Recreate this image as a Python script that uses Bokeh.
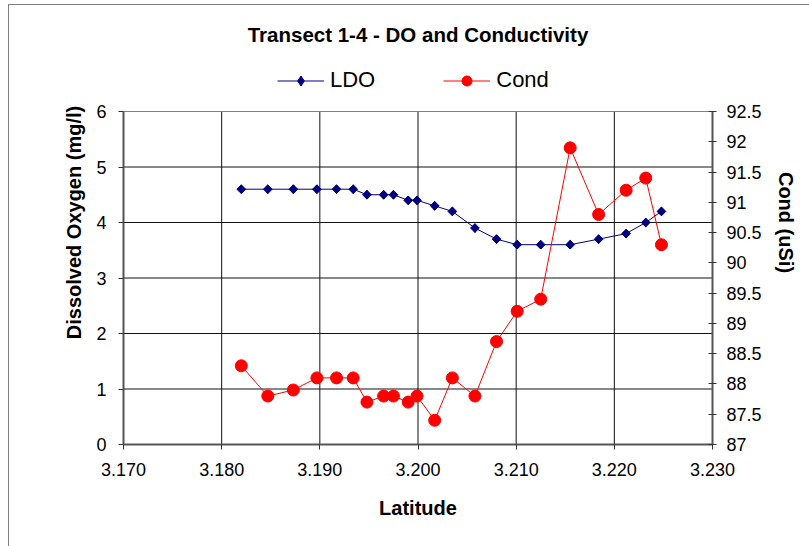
from bokeh.plotting import figure
from bokeh.models import (Range1d, LinearAxis, FixedTicker, Legend, LegendItem, Label,
                          NumeralTickFormatter)
from bokeh.embed import file_html
from bokeh.resources import INLINE
import math

# ---- data ----
latitude = [3.1820, 3.1847, 3.1873, 3.1897, 3.1917, 3.1934, 3.1948, 3.1965, 3.1975, 3.1990, 3.1999,
            3.2017, 3.2035, 3.2058, 3.2080, 3.2101, 3.2125, 3.2155, 3.2184, 3.2212, 3.2232, 3.2248]
ldo = [4.6, 4.6, 4.6, 4.6, 4.6, 4.6, 4.5, 4.5, 4.5, 4.4, 4.4,
       4.3, 4.2, 3.9, 3.7, 3.6, 3.6, 3.6, 3.7, 3.8, 4.0, 4.2]
cond = [88.3, 87.8, 87.9, 88.1, 88.1, 88.1, 87.7, 87.8, 87.8, 87.7, 87.8,
        87.4, 88.1, 87.8, 88.7, 89.2, 89.4, 91.9, 90.8, 91.2, 91.4, 90.3]

x_ticks = [3.170, 3.180, 3.190, 3.200, 3.210, 3.220, 3.230]
do_ticks = [0, 1, 2, 3, 4, 5, 6]
cond_ticks = [87, 87.5, 88, 88.5, 89, 89.5, 90, 90.5, 91, 91.5, 92, 92.5]

title_text = "Transect 1-4 - DO and Conductivity"
FONT = "Liberation Sans"

# the plotting frame reaches the top of the chart; the axes and grid are bounded to the data area
do_min, do_max = do_ticks[0], do_ticks[-1]
cond_min, cond_max = cond_ticks[0], cond_ticks[-1]
y_top = 8.0  # head-room above the data area for title and legend
cond_top = cond_min + (cond_max - cond_min) * (y_top - do_min) / (do_max - do_min)

p = figure(width=809, height=546, output_backend="svg", toolbar_location=None,
           x_range=Range1d(x_ticks[0], x_ticks[-1]), y_range=Range1d(do_min, y_top),
           min_border_left=123, min_border_right=97, min_border_top=0, min_border_bottom=102)
p.extra_y_ranges = {"cond": Range1d(cond_min, cond_top)}

p.background_fill_color = None
p.border_fill_color = None
p.outline_line_color = None
p.styles = {"background": "linear-gradient(#808080,#808080) 8px 4px / 1px calc(100% - 4px) no-repeat, "
                          "linear-gradient(#808080,#808080) 8px 4px / calc(100% - 8px) 1px no-repeat, white"}

# axes
xa = p.xaxis[0]
xa.ticker = FixedTicker(ticks=x_ticks)
xa.formatter = NumeralTickFormatter(format="0.000")
xa.axis_label = "Latitude"
xa.minor_tick_line_color = None

ya = p.yaxis[0]
ya.ticker = FixedTicker(ticks=do_ticks)
ya.bounds = (do_min, do_max)
ya.axis_label = "Dissolved Oxygen (mg/l)"
ya.minor_tick_line_color = None

ra = LinearAxis(y_range_name="cond", ticker=FixedTicker(ticks=cond_ticks),
                bounds=(cond_min, cond_max), axis_label="Cond (uSi)")
ra.major_label_overrides = {t: f"{t:g}" for t in cond_ticks}
ra.minor_tick_line_color = None
p.add_layout(ra, "right")

for ax in (xa, ya, ra):
    ax.axis_line_color = "#555555"
    ax.axis_line_width = 2
    ax.major_tick_line_color = "#333333"
    ax.major_tick_line_width = 1
    ax.major_label_text_font = FONT
    ax.major_label_text_font_size = "18px"
    ax.major_label_text_color = "black"
    ax.axis_label_text_font = FONT
    ax.axis_label_text_font_size = "20px"
    ax.axis_label_text_font_style = "bold"
    ax.axis_label_text_color = "black"

xa.major_tick_out = 5; xa.major_tick_in = 0
xa.major_label_standoff = 13
xa.axis_label_standoff = 18
ya.major_tick_out = 5; ya.major_tick_in = 0
ya.major_label_standoff = 12
ya.axis_label_standoff = 8
ra.major_tick_out = 4; ra.major_tick_in = 4
ra.major_label_standoff = 10
ra.axis_label_standoff = 10

# grid limited to the data area
p.xgrid.visible = False
p.ygrid.visible = False
inner_x = x_ticks[1:-1]
p.segment(x0=inner_x, y0=[do_min] * len(inner_x), x1=inner_x, y1=[do_max] * len(inner_x),
          line_color="#111111", line_width=1)
inner_y = do_ticks[1:-1]
p.segment(x0=[x_ticks[0]] * len(inner_y), y0=inner_y, x1=[x_ticks[-1]] * len(inner_y), y1=inner_y,
          line_color="#111111", line_width=1)
# top edge of the plot area
p.segment(x0=[x_ticks[0]], y0=[do_max], x1=[x_ticks[-1]], y1=[do_max],
          line_color="#808080", line_width=1)

# series
l1 = p.line(latitude, ldo, line_color="#000080", line_width=1)
# diamond key marker (hidden beneath the rotated squares, used for the legend swatch)
s1_key = p.scatter(latitude, ldo, marker="diamond", size=8.5,
                   fill_color="#000080", line_color="#000080")
s1 = p.scatter(latitude, ldo, marker="square", angle=math.pi / 4, size=6.2,
               fill_color="#000080", line_color="#000080")
l2 = p.line(latitude, cond, line_color="#FF0000", line_width=1, y_range_name="cond")
s2 = p.scatter(latitude, cond, marker="circle", size=12, fill_color="#FF0000",
               line_color="#FF0000", y_range_name="cond")

legend = Legend(items=[LegendItem(label="LDO", renderers=[l1, s1_key]),
                       LegendItem(label="Cond", renderers=[l2, s2])],
                orientation="horizontal", location=(154, 351),
                padding=0, margin=0, spacing=68, glyph_width=47, glyph_height=25,
                label_standoff=6, label_text_font=FONT, label_text_font_size="22px",
                label_text_color="black",
                background_fill_alpha=0, border_line_alpha=0)
p.add_layout(legend, "center")

p.add_layout(Label(x=(x_ticks[0] + x_ticks[-1]) / 2, y=7.39, text=title_text,
                   text_align="center", text_baseline="middle", text_font=FONT,
                   text_font_size="20.5px", text_font_style="bold", text_color="black"))

open("out.html", "w").write(file_html(p, INLINE))
